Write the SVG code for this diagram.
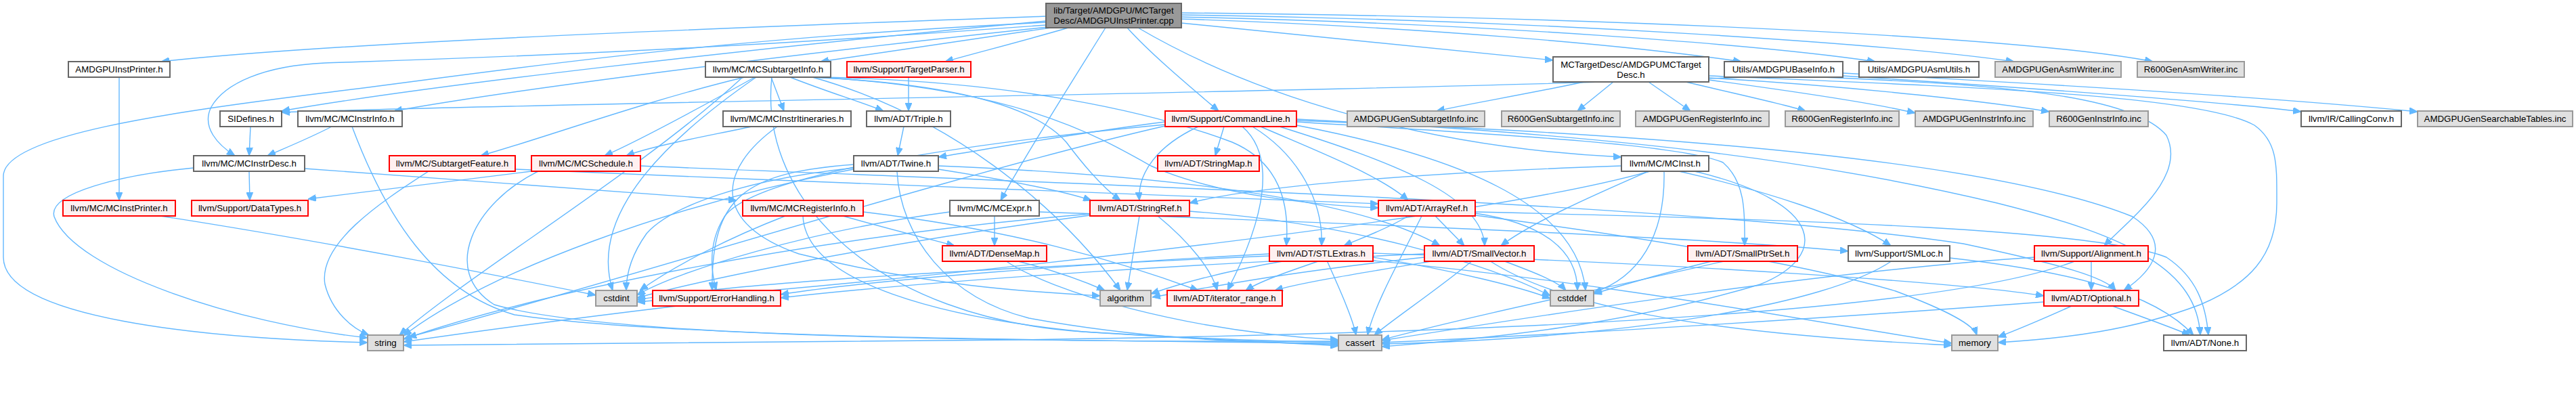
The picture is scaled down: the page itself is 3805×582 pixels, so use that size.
<svg xmlns="http://www.w3.org/2000/svg" width="3805" height="582" viewBox="0 0 3805 582">
<defs>
<style>
rect{stroke-width:2}
.w rect{fill:#ffffff;stroke:#666666}
.root rect{fill:#999999;stroke:#666666}
.r rect{fill:#fff0f0;stroke:#ff0000}
.g rect{fill:#e0e0e0;stroke:#999999}
text{font-family:"Liberation Sans",Arial,sans-serif;font-size:13.3px;fill:#000000;text-anchor:middle}
#edges path{fill:none;stroke:#63b8ff;stroke-width:1.4;marker-end:url(#a)}
</style>
<marker id="a" markerUnits="userSpaceOnUse" markerWidth="12" markerHeight="10" refX="12" refY="5" orient="auto" viewBox="0 0 12 10"><path d="M0,0 L12,5 L0,10 z" fill="#63b8ff" stroke="#63b8ff" stroke-width="1"/></marker>
</defs>
<rect x="0" y="0" width="3805" height="582" fill="#ffffff" style="stroke:none"/>
<g id="edges">
<path d="M1545,24 C1100,40 500,62 238,91"/>
<path d="M1545,31 C1100,72 620,128 416,164"/>
<path d="M1545,37 C1000,78 620,88 480,93 C390,97 332,123 312,158 C297,188 322,214 347,230"/>
<path d="M1547,40 C1150,82 760,132 582,164"/>
<path d="M1552,41 C1420,60 1300,78 1212,91"/>
<path d="M1578,41 C1520,58 1450,76 1396,91"/>
<path d="M1633,41 C1590,110 1520,220 1478,296"/>
<path d="M1665,41 C1700,80 1760,130 1800,164"/>
<path d="M1681,41 C1850,140 2100,218 2395,232"/>
<path d="M1745,34 C1950,55 2150,75 2294,89"/>
<path d="M1745,28 C2100,40 2400,66 2572,91"/>
<path d="M1745,25 C2200,35 2600,66 2770,91"/>
<path d="M1745,22 C2300,30 2800,66 2975,91"/>
<path d="M1745,19 C2400,25 3000,56 3180,91"/>
<path d="M1545,33 C1000,60 720,108 480,137 C250,166 5,200 5,260 L5,380 C5,470 300,500 543,506"/>
<path d="M176,114 L176,296"/>
<path d="M370,187 L368,230"/>
<path d="M490,187 C455,205 425,217 395,230"/>
<path d="M520,187 C570,320 640,430 760,465 C1000,500 1600,503 1977,507"/>
<path d="M368,253 L369,296"/>
<path d="M286,248 C180,258 70,285 80,320 C110,400 350,478 543,499"/>
<path d="M450,249 C700,268 950,285 1088,296"/>
<path d="M1100,114 C950,150 800,205 710,230"/>
<path d="M1115,114 C1050,150 950,205 893,230"/>
<path d="M1139,114 L1158,164"/>
<path d="M1167,114 C1220,135 1270,150 1305,164"/>
<path d="M1195,114 C1450,125 1540,170 1575,210 C1605,250 1630,278 1655,296"/>
<path d="M1205,114 C1500,130 1620,200 1700,245 C1800,290 1950,303 2036,307"/>
<path d="M1215,114 C1500,120 1700,165 1820,210 C1890,240 1905,300 1900,363"/>
<path d="M1117,114 C920,250 880,350 905,429"/>
<path d="M1097,114 C950,250 700,400 590,495"/>
<path d="M1140,114 C1120,300 1300,470 1600,490 C1800,502 1900,505 1977,505"/>
<path d="M1200,114 C1400,170 1560,300 1655,429"/>
<path d="M1342,114 L1342,164"/>
<path d="M2340,121 C2250,140 2160,155 2122,164"/>
<path d="M2383,121 L2330,164"/>
<path d="M2435,121 L2497,164"/>
<path d="M2490,121 C2570,140 2640,155 2667,164"/>
<path d="M2524,118 C2650,135 2780,155 2829,167"/>
<path d="M2524,115 C2750,128 2950,152 3027,165"/>
<path d="M2524,112 C2900,128 3250,140 3330,185 C3365,210 3363,245 3363,300 C3363,380 3320,420 3250,450 C3150,488 3050,500 2951,506"/>
<path d="M2580,114 C2000,136 800,152 416,166"/>
<path d="M2722,112 C3000,130 3300,152 3399,165"/>
<path d="M2722,108 C3100,128 3400,148 3571,165"/>
<path d="M2692,114 C2950,125 3150,140 3200,200 C3230,260 3150,320 3108,363"/>
<path d="M1335,187 L1326,230"/>
<path d="M1110,187 C1050,200 965,215 925,230"/>
<path d="M1148,187 C1060,250 1050,330 1180,375 C1380,425 1540,432 1625,437"/>
<path d="M1808,187 L1795,230"/>
<path d="M1770,187 C1710,215 1680,255 1683,296"/>
<path d="M1835,187 C1885,230 1870,320 1813,429"/>
<path d="M1862,187 C1950,225 2040,260 2080,296"/>
<path d="M1850,187 C1920,230 1955,300 1952,363"/>
<path d="M1890,187 C2060,240 2190,290 2193,363"/>
<path d="M1721,180 C1600,195 1460,220 1386,232"/>
<path d="M1721,184 C1500,205 1120,250 1070,320 C1045,360 1050,400 1058,429"/>
<path d="M1915,180 C2200,198 2480,212 2545,240 C2580,270 2577,320 2577,363"/>
<path d="M1915,176 C2400,200 2700,240 2950,300 C3150,350 3245,400 3250,495"/>
<path d="M1915,178 C2500,200 2950,240 3150,320 C3210,360 3180,400 3137,429"/>
<path d="M1915,185 C2150,230 2330,300 2342,429"/>
<path d="M1721,186 C1400,260 900,420 603,498"/>
<path d="M1386,250 C1500,268 1570,282 1612,296"/>
<path d="M1386,245 C1700,258 2000,290 2127,363"/>
<path d="M1261,243 C1100,255 1050,290 1052,429"/>
<path d="M1325,253 C1330,350 1400,440 1520,470 C1700,503 1850,505 1977,509"/>
<path d="M1261,248 C1100,265 990,305 955,345 C930,380 925,410 925,429"/>
<path d="M1261,250 C1000,300 720,400 596,496"/>
<path d="M1469,319 L1469,363"/>
<path d="M1535,313 C2000,330 2500,350 2730,371"/>
<path d="M1403,313 C1200,340 1000,400 941,436"/>
<path d="M1683,319 L1665,429"/>
<path d="M1710,319 C1760,360 1790,400 1798,429"/>
<path d="M1757,312 C2000,330 2200,390 2290,437"/>
<path d="M1610,316 C1200,350 800,430 596,501"/>
<path d="M1610,318 C1300,360 1050,410 941,440"/>
<path d="M2080,319 C2050,338 2010,352 1985,363"/>
<path d="M2120,319 L2163,363"/>
<path d="M2100,319 C2070,380 2030,450 2020,495"/>
<path d="M2179,315 C2280,330 2330,370 2330,429"/>
<path d="M2179,313 C2700,325 3100,340 3200,380 C3245,410 3258,450 3262,495"/>
<path d="M2179,318 C2500,360 2700,400 2800,430 C2880,460 2915,480 2920,495"/>
<path d="M1500,385 C1560,400 1600,415 1632,429"/>
<path d="M1485,385 C1550,430 1750,490 1977,502"/>
<path d="M1900,385 C1800,402 1740,420 1700,434"/>
<path d="M1950,385 C1900,402 1860,416 1840,429"/>
<path d="M1960,385 C1980,430 1998,470 2003,495"/>
<path d="M2028,380 C2150,400 2250,425 2290,441"/>
<path d="M1875,375 C1600,390 1300,412 1153,435"/>
<path d="M1875,378 C1500,395 1100,415 941,443"/>
<path d="M2028,374 C2500,390 2900,418 3019,437"/>
<path d="M2028,385 C2400,420 2700,480 2883,507"/>
<path d="M2104,380 C1900,402 1800,422 1702,439"/>
<path d="M2120,385 C2000,405 1920,418 1883,429"/>
<path d="M2175,385 C2120,430 2060,470 2030,495"/>
<path d="M2220,385 C2260,400 2300,415 2313,429"/>
<path d="M2200,385 C2300,450 2500,492 2883,510"/>
<path d="M2104,375 C1800,388 1400,412 1153,440"/>
<path d="M2550,385 C2400,420 2200,460 2041,502"/>
<path d="M2532,385 C2450,405 2400,420 2354,434"/>
<path d="M2795,385 C2700,450 2400,500 2041,508"/>
<path d="M2880,381 C3050,400 3180,430 3240,495"/>
<path d="M2435,253 C2350,290 2260,330 2217,363"/>
<path d="M2395,245 C2100,255 1850,275 1757,300"/>
<path d="M2480,253 C2600,280 2730,320 2793,363"/>
<path d="M2458,253 C2460,350 2420,410 2354,432"/>
<path d="M2437,253 C2200,320 1500,400 941,446"/>
<path d="M2503,253 C2700,300 2700,380 2600,420 C2400,480 2200,500 2041,512"/>
<path d="M1245,319 C1320,340 1380,355 1410,363"/>
<path d="M1275,313 C1500,340 1650,385 1770,429"/>
<path d="M1186,319 C1190,420 1400,470 1600,490 C1800,503 1900,506 1977,511"/>
<path d="M1160,319 C1080,350 1000,390 945,429"/>
<path d="M633,253 C560,300 470,360 480,420 C490,460 520,485 545,495"/>
<path d="M761,250 C1200,268 1700,290 2036,301"/>
<path d="M795,253 C700,300 650,400 730,450 C900,500 1500,505 1977,504"/>
<path d="M785,253 C650,270 520,285 455,294"/>
<path d="M946,245 C1500,268 2500,300 2900,360 C3050,392 3110,410 3125,429"/>
<path d="M237,319 C500,360 750,410 880,436"/>
<path d="M1000,452 C850,470 700,490 596,505"/>
<path d="M3060,452 C3020,470 2985,485 2951,498"/>
<path d="M3120,452 C3170,470 3210,485 3235,495"/>
<path d="M3019,446 C2700,470 2300,495 2041,506"/>
<path d="M3089,385 L3089,429"/>
<path d="M3005,380 C2700,400 2300,462 2041,503"/>
<path d="M3067,385 C2900,450 2400,490 1500,502 C1000,507 800,509 596,510"/>
</g>
<g id="n_root" class="root"><rect x="1545" y="5" width="200" height="36"/><text x="1645" y="20">lib/Target/AMDGPU/MCTarget</text><text x="1645" y="35">Desc/AMDGPUInstPrinter.cpp</text></g>
<g id="n_aip" class="w"><rect x="101" y="91" width="150" height="23"/><text x="176" y="107">AMDGPUInstPrinter.h</text></g>
<g id="n_mcsti" class="w"><rect x="1042" y="91" width="185" height="23"/><text x="1134.5" y="107">llvm/MC/MCSubtargetInfo.h</text></g>
<g id="n_tp" class="r"><rect x="1251" y="91" width="183" height="23"/><text x="1342.5" y="107">llvm/Support/TargetParser.h</text></g>
<g id="n_mctd" class="w"><rect x="2294" y="84" width="230" height="37"/><text x="2409" y="100">MCTargetDesc/AMDGPUMCTarget</text><text x="2409" y="115">Desc.h</text></g>
<g id="n_abi" class="w"><rect x="2547" y="91" width="175" height="23"/><text x="2634.5" y="107">Utils/AMDGPUBaseInfo.h</text></g>
<g id="n_aau" class="w"><rect x="2746" y="91" width="177" height="23"/><text x="2834.5" y="107">Utils/AMDGPUAsmUtils.h</text></g>
<g id="n_agaw" class="g"><rect x="2947" y="91" width="186" height="23"/><text x="3040" y="107">AMDGPUGenAsmWriter.inc</text></g>
<g id="n_rgaw" class="g"><rect x="3157" y="91" width="158" height="23"/><text x="3236" y="107">R600GenAsmWriter.inc</text></g>
<g id="n_sid" class="w"><rect x="325" y="164" width="91" height="23"/><text x="370.5" y="180">SIDefines.h</text></g>
<g id="n_mii" class="w"><rect x="440" y="164" width="154" height="23"/><text x="517" y="180">llvm/MC/MCInstrInfo.h</text></g>
<g id="n_mcit" class="w"><rect x="1068" y="164" width="189" height="23"/><text x="1162.5" y="180">llvm/MC/MCInstrItineraries.h</text></g>
<g id="n_tri" class="w"><rect x="1280" y="164" width="124" height="23"/><text x="1342" y="180">llvm/ADT/Triple.h</text></g>
<g id="n_cl" class="r"><rect x="1721" y="164" width="194" height="23"/><text x="1818" y="180">llvm/Support/CommandLine.h</text></g>
<g id="n_agsi" class="g"><rect x="1990" y="164" width="203" height="23"/><text x="2091.5" y="180">AMDGPUGenSubtargetInfo.inc</text></g>
<g id="n_rgsi" class="g"><rect x="2218" y="164" width="175" height="23"/><text x="2305.5" y="180">R600GenSubtargetInfo.inc</text></g>
<g id="n_agri" class="g"><rect x="2416" y="164" width="197" height="23"/><text x="2514.5" y="180">AMDGPUGenRegisterInfo.inc</text></g>
<g id="n_rgri" class="g"><rect x="2637" y="164" width="168" height="23"/><text x="2721" y="180">R600GenRegisterInfo.inc</text></g>
<g id="n_agii" class="g"><rect x="2829" y="164" width="174" height="23"/><text x="2916" y="180">AMDGPUGenInstrInfo.inc</text></g>
<g id="n_rgii" class="g"><rect x="3027" y="164" width="146" height="23"/><text x="3100" y="180">R600GenInstrInfo.inc</text></g>
<g id="n_cc" class="w"><rect x="3399" y="164" width="148" height="23"/><text x="3473" y="180">llvm/IR/CallingConv.h</text></g>
<g id="n_agst" class="g"><rect x="3571" y="164" width="229" height="23"/><text x="3685.5" y="180">AMDGPUGenSearchableTables.inc</text></g>
<g id="n_mid" class="w"><rect x="286" y="230" width="164" height="23"/><text x="368" y="246">llvm/MC/MCInstrDesc.h</text></g>
<g id="n_sf" class="r"><rect x="575" y="230" width="186" height="23"/><text x="668" y="246">llvm/MC/SubtargetFeature.h</text></g>
<g id="n_mcs" class="r"><rect x="785" y="230" width="161" height="23"/><text x="865.5" y="246">llvm/MC/MCSchedule.h</text></g>
<g id="n_tw" class="w"><rect x="1261" y="230" width="125" height="23"/><text x="1323.5" y="246">llvm/ADT/Twine.h</text></g>
<g id="n_sm" class="r"><rect x="1710" y="230" width="150" height="23"/><text x="1785" y="246">llvm/ADT/StringMap.h</text></g>
<g id="n_mci" class="w"><rect x="2395" y="230" width="129" height="23"/><text x="2459.5" y="246">llvm/MC/MCInst.h</text></g>
<g id="n_mcip" class="r"><rect x="93" y="296" width="166" height="23"/><text x="176" y="312">llvm/MC/MCInstPrinter.h</text></g>
<g id="n_dt" class="r"><rect x="283" y="296" width="172" height="23"/><text x="369" y="312">llvm/Support/DataTypes.h</text></g>
<g id="n_mri" class="r"><rect x="1097" y="296" width="178" height="23"/><text x="1186" y="312">llvm/MC/MCRegisterInfo.h</text></g>
<g id="n_mce" class="w"><rect x="1403" y="296" width="132" height="23"/><text x="1469" y="312">llvm/MC/MCExpr.h</text></g>
<g id="n_sr" class="r"><rect x="1610" y="296" width="147" height="23"/><text x="1683.5" y="312">llvm/ADT/StringRef.h</text></g>
<g id="n_ar" class="r"><rect x="2036" y="296" width="143" height="23"/><text x="2107.5" y="312">llvm/ADT/ArrayRef.h</text></g>
<g id="n_dm" class="r"><rect x="1392" y="363" width="154" height="23"/><text x="1469" y="379">llvm/ADT/DenseMap.h</text></g>
<g id="n_stl" class="r"><rect x="1875" y="363" width="153" height="23"/><text x="1951.5" y="379">llvm/ADT/STLExtras.h</text></g>
<g id="n_sv" class="r"><rect x="2104" y="363" width="162" height="23"/><text x="2185" y="379">llvm/ADT/SmallVector.h</text></g>
<g id="n_sps" class="r"><rect x="2493" y="363" width="162" height="23"/><text x="2574" y="379">llvm/ADT/SmallPtrSet.h</text></g>
<g id="n_sml" class="w"><rect x="2730" y="363" width="150" height="23"/><text x="2805" y="379">llvm/Support/SMLoc.h</text></g>
<g id="n_al" class="r"><rect x="3005" y="363" width="168" height="23"/><text x="3089" y="379">llvm/Support/Alignment.h</text></g>
<g id="n_csi" class="g"><rect x="880" y="429" width="61" height="23"/><text x="910.5" y="445">cstdint</text></g>
<g id="n_eh" class="r"><rect x="964" y="429" width="189" height="23"/><text x="1058.5" y="445">llvm/Support/ErrorHandling.h</text></g>
<g id="n_alg" class="g"><rect x="1625" y="429" width="75" height="23"/><text x="1662.5" y="445">algorithm</text></g>
<g id="n_ir" class="r"><rect x="1724" y="429" width="170" height="23"/><text x="1809" y="445">llvm/ADT/iterator_range.h</text></g>
<g id="n_csd" class="g"><rect x="2290" y="429" width="64" height="23"/><text x="2322" y="445">cstddef</text></g>
<g id="n_opt" class="r"><rect x="3019" y="429" width="140" height="23"/><text x="3089" y="445">llvm/ADT/Optional.h</text></g>
<g id="n_str" class="g"><rect x="543" y="495" width="53" height="23"/><text x="569.5" y="511">string</text></g>
<g id="n_cas" class="g"><rect x="1977" y="495" width="64" height="23"/><text x="2009" y="511">cassert</text></g>
<g id="n_mem" class="g"><rect x="2883" y="495" width="68" height="23"/><text x="2917" y="511">memory</text></g>
<g id="n_none" class="w"><rect x="3196" y="495" width="122" height="23"/><text x="3257" y="511">llvm/ADT/None.h</text></g>
</svg>
